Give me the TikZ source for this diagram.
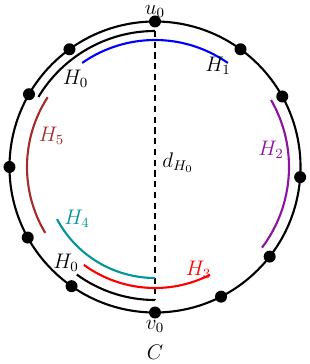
\documentclass[tikz,border=0pt]{standalone}
\definecolor{hbrown}{RGB}{165,42,42}
\definecolor{hpurple}{RGB}{140,20,160}
\definecolor{hteal}{RGB}{0,150,150}
\tikzset{
    vertex/.style={circle, fill=black, inner sep=0pt, minimum size=0.24cm},
    harc/.style={line width=1.2pt},
    every node/.style={font=\fontsize{11.5}{14}\selectfont}
}
\begin{document}
\begin{tikzpicture}
    \useasboundingbox (-3.10,-3.94) rectangle (3.08,3.34);
    % Draw the cycle C
    \draw[line width=1.2pt] (0,0) circle (2.91);
    \node (C) at (0,-3.7) {$C$};

    % Draw the vertices on C
    \node[vertex, label={[inner sep=0pt, yshift=-1.5pt]above:$u_0$}] (u0) at (90:2.91) {};
    \node[vertex, label={[inner sep=0.5pt]below:$v_0$}] (v0) at (270:2.91) {};
    \foreach \a in {54,29,-4,-38,-63,-125,-151,180,150,126}
        \node[vertex] (p\a) at (\a:2.91) {};

    % Draw the path H_0 and its diameter
    \coordinate (t0) at (90:2.72);
    \coordinate (b0) at (270:2.66);
    \draw[harc] (149:2.72) arc[start angle=149, end angle=90, radius=2.72];
    \draw[harc] (234:2.66) arc[start angle=234, end angle=270, radius=2.66];
    \draw[harc, dash pattern=on 3.5pt off 2.6pt] (t0) -- (b0);
    \node (h0a) at (-1.59,1.76) {$H_0$};
    \node (h0b) at (-1.78,-1.92) {$H_0$};
    \node (d) at (0.46,0.08) {$d_{H_0}$};

    % Draw the other paths
    \draw[harc, blue] (55:2.54) arc[start angle=55, end angle=125, radius=2.54];
    \node (h1) at (1.26,2.02) {$H_1$};
    \draw[harc, hpurple] (-37:2.68) arc[start angle=-37, end angle=30, radius=2.68];
    \node[hpurple] (h2) at (2.32,0.34) {$H_2$};
    \draw[harc, red] (234:2.42) arc[start angle=234, end angle=297, radius=2.42];
    \node[red] (h3) at (0.87,-2.06) {$H_3$};
    \draw[harc, hteal] (208:2.22) arc[start angle=208, end angle=270, radius=2.22];
    \node[hteal] (h4) at (-1.56,-1.04) {$H_4$};
    \draw[harc, hbrown] (147:2.56) arc[start angle=147, end angle=211, radius=2.56];
    \node[hbrown] (h5) at (-2.07,0.62) {$H_5$};
\end{tikzpicture}
\end{document}
